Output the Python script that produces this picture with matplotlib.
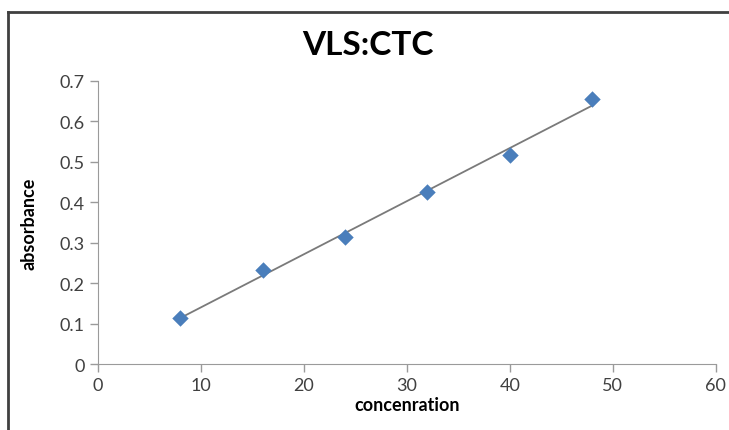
import numpy as np
import matplotlib.pyplot as plt
from matplotlib.lines import Line2D

concentration = [8, 16, 24, 32, 40, 48]
absorbance = [0.113, 0.232, 0.315, 0.426, 0.516, 0.656]
x_ticks = [0, 10, 20, 30, 40, 50, 60]
y_ticks = [0, 0.1, 0.2, 0.3, 0.4, 0.5, 0.6, 0.7]

plt.rcParams['font.family'] = ['Lato', 'DejaVu Sans']

fig = plt.figure(figsize=(7.29, 4.31), dpi=100)
ax = fig.add_axes([0.134, 0.153, 0.848, 0.657])

# linear trendline
slope, intercept = np.polyfit(concentration, absorbance, 1)
xs = np.array([min(concentration), max(concentration)])
ax.plot(xs, slope * xs + intercept, color='#7a7a7a', lw=1.3, zorder=2)
ax.scatter(concentration, absorbance, marker='D', s=70, color='#4a7ebb',
           zorder=3, linewidths=0)

ax.set_xlim(0, 60)
ax.set_ylim(0, 0.7)
ax.set_xticks(x_ticks)
ax.set_yticks(y_ticks)
ax.set_yticklabels(['0', '0.1', '0.2', '0.3', '0.4', '0.5', '0.6', '0.7'])
for s in ['top', 'right']:
    ax.spines[s].set_visible(False)
for s in ['left', 'bottom']:
    ax.spines[s].set_color('#9a9a9a')
ax.tick_params(colors='#9a9a9a', labelcolor='#404040', labelsize=13,
               length=6, width=1, direction='out')

ax.set_xlabel('concenration', fontsize=13, fontweight='bold', labelpad=2)
ax.set_ylabel('absorbance', fontsize=13, fontweight='bold', labelpad=16)
fig.text(0.505, 0.895, 'VLS:CTC', ha='center', va='center',
         fontsize=24, fontweight='bold')

# chart border (cropped at right/bottom)
fig.add_artist(Line2D([0.011, 0.011], [0, 0.970], transform=fig.transFigure,
                      color='#404040', lw=2))
fig.add_artist(Line2D([0.011, 1], [0.970, 0.970], transform=fig.transFigure,
                      color='#404040', lw=2))

fig.savefig('out.png', dpi=100)
